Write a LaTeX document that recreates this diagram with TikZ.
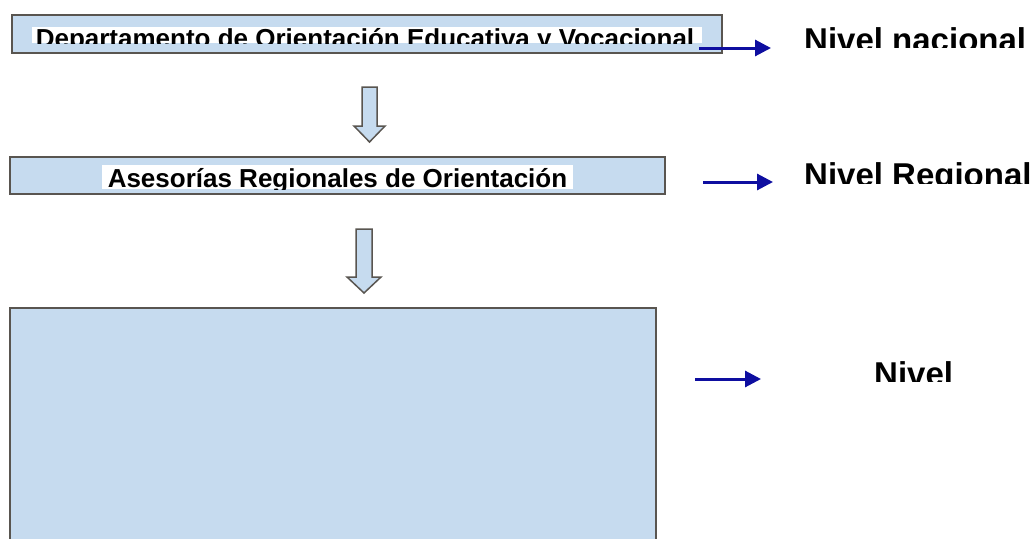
\documentclass[tikz,border=0pt]{standalone}
\usepackage{fontspec}
\setmainfont{Liberation Sans}
\usetikzlibrary{arrows.meta}
\definecolor{cajaazul}{RGB}{198,219,239}
\definecolor{bordegris}{RGB}{89,85,80}
\definecolor{azulflecha}{RGB}{14,14,160}
\tikzset{
  caja/.style={draw=bordegris, line width=1.5pt, fill=cajaazul, inner sep=0pt},
  nivelflecha/.style={-{Triangle[length=16pt,width=16pt]}, draw=azulflecha, fill=azulflecha, line width=3pt},
  rotulo/.style={font=\fontsize{26}{30}\selectfont\bfseries, inner sep=0pt, anchor=base},
  rotulonivel/.style={font=\fontsize{33}{38}\selectfont\bfseries, inner sep=0pt, anchor=base west},
  bloque/.style={draw=bordegris, line width=1.5pt, fill=cajaazul, line join=miter}
}

\begin{document}
\begin{tikzpicture}[x=1pt,y=-1pt]
\clip (0,0) rectangle (1033,538);
\fill[white] (0,0) rectangle (1033,538);
%\draw[help lines] (0,0) grid[step=50] (1033,538);
\node[caja, minimum width=710, minimum height=38] (depto) at (367,34) {};
\node[caja, minimum width=655, minimum height=37] (regio) at (337.5,175.5) {};
\node[caja, minimum width=646, minimum height=240] (local) at (333,428) {};

\begin{scope}
  \clip (32,27) rectangle (702,43);
  \fill[white] (32,27) rectangle (702,43);
  \node[rotulo] (tdepto) at (365,47.6) {Departamento de Orientación Educativa y Vocacional};
\end{scope}
\begin{scope}
  \clip (102,165) rectangle (573,189);
  \fill[white] (102,165) rectangle (573,189);
  \node[rotulo] (tregio) at (337.5,187.6) {Asesorías Regionales de Orientación};
\end{scope}

\begin{scope}
  \clip (790,10) rectangle (1033,47);
  \node[rotulonivel] (nac) at (804,51.6) {Nivel nacional};
\end{scope}
\begin{scope}
  \clip (790,150) rectangle (1033,183);
  \node[rotulonivel] (reg) at (804,186.6) {Nivel Regional};
\end{scope}
\begin{scope}
  \clip (860,350) rectangle (1000,381);
  \node[rotulonivel] (loc) at (874,385.6) {Nivel};
\end{scope}

% flechas de bloque
\draw[bloque] (362,87) -- (377,87) -- (377,126) -- (385,126) -- (369.5,142)
  -- (354,126) -- (362,126) -- cycle;
\draw[bloque] (356,229) -- (372,229) -- (372,277) -- (381,277) -- (364,293)
  -- (347,277) -- (356,277) -- cycle;

\coordinate (a1) at (699,48);  \coordinate (b1) at (771,48);
\coordinate (a2) at (703,182); \coordinate (b2) at (773,182);
\coordinate (a3) at (695,379); \coordinate (b3) at (761,379);
\draw[nivelflecha] (a1) -- (b1);
\draw[nivelflecha] (a2) -- (b2);
\draw[nivelflecha] (a3) -- (b3);
\end{tikzpicture}
\end{document}
